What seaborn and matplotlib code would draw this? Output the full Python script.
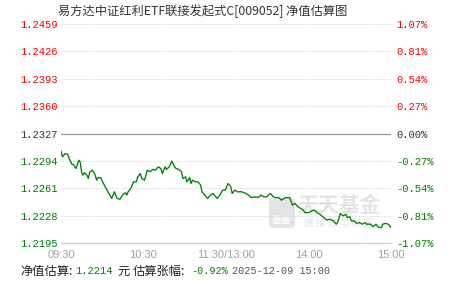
import matplotlib
matplotlib.use("Agg")
import matplotlib.pyplot as plt
from matplotlib.patches import FancyBboxPatch
import seaborn as sns
import pandas as pd

# ---------------- data ----------------
title = "易方达中证红利ETF联接发起式C[009052] 净值估算图"
base_nav = 1.2327
nav_ticks = [1.2459, 1.2426, 1.2393, 1.2360, 1.2327, 1.2294, 1.2261, 1.2228, 1.2195]
pct_ticks = ["1.07%", "0.81%", "0.54%", "0.27%", "0.00%", "-0.27%", "-0.54%", "-0.81%", "-1.07%"]
time_labels = ["09:30", "10:30", "11:30/13:00", "14:00", "15:00"]
time_label_pos = [0, 60, 120.5, 181, 241]
minor_pos = [30, 90, 151, 211]

minute = [0, 1, 3, 5, 6, 8, 9, 11, 13, 14, 15, 16, 17, 19, 20, 21, 23, 25, 26, 27,
          29, 31, 33, 35, 37, 38, 39, 41, 43, 45, 47, 48, 49, 51, 53, 55, 56, 58, 59, 61,
          63, 65, 67, 69, 71, 73, 74, 76, 77, 79, 81, 82, 84, 86, 88, 89, 91, 92, 94, 95,
          96, 98, 100, 102, 103, 105, 107, 109, 111, 112, 114, 116, 118, 120, 122, 124, 125, 127, 129, 132,
          135, 137, 139, 142, 144, 146, 148, 150, 153, 155, 157, 159, 161, 163, 164, 167, 169, 171, 173, 175,
          177, 178, 181, 183, 185, 187, 189, 192, 194, 196, 199, 201, 202, 204, 206, 208, 209, 211, 212, 214,
          216, 218, 220, 222, 223, 226, 228, 230, 232, 234, 235, 237, 239, 241]
nav = [1.2306, 1.2299, 1.2303, 1.2302, 1.2297, 1.2290, 1.2290, 1.2285, 1.2295, 1.2293,
       1.2281, 1.2277, 1.2280, 1.2277, 1.2273, 1.2281, 1.2283, 1.2277, 1.2271, 1.2274,
       1.2274, 1.2267, 1.2261, 1.2255, 1.2249, 1.2253, 1.2257, 1.2249, 1.2248, 1.2253,
       1.2256, 1.2253, 1.2257, 1.2261, 1.2269, 1.2269, 1.2275, 1.2279, 1.2273, 1.2271,
       1.2283, 1.2281, 1.2284, 1.2283, 1.2287, 1.2285, 1.2279, 1.2287, 1.2284, 1.2287,
       1.2294, 1.2290, 1.2285, 1.2284, 1.2281, 1.2273, 1.2275, 1.2269, 1.2274, 1.2267,
       1.2271, 1.2269, 1.2269, 1.2265, 1.2257, 1.2253, 1.2249, 1.2253, 1.2255, 1.2253,
       1.2249, 1.2253, 1.2259, 1.2259, 1.2267, 1.2263, 1.2255, 1.2259, 1.2257, 1.2257,
       1.2255, 1.2253, 1.2250, 1.2251, 1.2250, 1.2253, 1.2251, 1.2251, 1.2255, 1.2251,
       1.2250, 1.2250, 1.2247, 1.2249, 1.2250, 1.2250, 1.2241, 1.2243, 1.2239, 1.2237,
       1.2235, 1.2232, 1.2232, 1.2234, 1.2235, 1.2232, 1.2230, 1.2226, 1.2223, 1.2224,
       1.2222, 1.2218, 1.2220, 1.2231, 1.2228, 1.2230, 1.2226, 1.2227, 1.2222, 1.2222,
       1.2219, 1.2220, 1.2218, 1.2220, 1.2218, 1.2218, 1.2215, 1.2218, 1.2214, 1.2214,
       1.2218, 1.2219, 1.2218, 1.2214]
footer_nav = "1.2214"
footer_pct = "-0.92%"
footer_time = "2025-12-09 15:00"

# ---------------- style ----------------
sns.set_style("white")
plt.rcParams["font.family"] = ["Noto Sans CJK SC", "DejaVu Sans"]

W, H = 451, 281
fig = plt.figure(figsize=(W / 100, H / 100), dpi=100)
fig.patch.set_facecolor("white")

def fx(px):
    return px / W

def fy(py):
    return 1 - py / H

left, right, top, bottom = 61, 391, 24, 243.3
ax = fig.add_axes([fx(left), fy(bottom), fx(right - left), (bottom - top) / H])
ax.set_facecolor("none")

RED = "#ff0000"
GREEN = "#008000"
DARK = "#333333"
mono = ["Liberation Mono", "DejaVu Sans Mono"]

df = pd.DataFrame({"minute": minute, "nav": nav})
sns.lineplot(data=df, x="minute", y="nav", ax=ax, color=GREEN, linewidth=0.95, zorder=3)

ax.set_xlim(0, 241)
ax.set_ylim(nav_ticks[-1], nav_ticks[0])

# grid lines
for v in nav_ticks[1:-1]:
    if abs(v - base_nav) < 1e-6:
        ax.axhline(v, color="#999999", linewidth=0.9, zorder=2)
    else:
        ax.axhline(v, color="#d8d8d8", linewidth=0.7, linestyle=(0, (1, 1)), zorder=1)
ax.axhline(nav_ticks[0], color="#d8d8d8", linewidth=0.7, linestyle=(0, (1, 1)), zorder=1)

def col(v):
    if v > base_nav + 1e-6:
        return RED
    if v < base_nav - 1e-6:
        return GREEN
    return DARK

ax.set_yticks(nav_ticks)
ax.set_yticklabels([f"{v:.4f}" for v in nav_ticks], family=mono, fontsize=7.6)
for lab, v in zip(ax.get_yticklabels(), nav_ticks):
    lab.set_color(col(v))
ax.tick_params(axis="y", length=0, pad=2.6)

ax2 = ax.twinx()
ax2.set_ylim(ax.get_ylim())
ax2.set_yticks(nav_ticks)
ax2.set_yticklabels(pct_ticks, family=mono, fontsize=7.6)
for lab, v in zip(ax2.get_yticklabels(), nav_ticks):
    lab.set_color(col(v))
ax2.tick_params(axis="y", length=0, pad=3.6)

for a in (ax, ax2):
    for s in ("top", "left", "right", "bottom"):
        a.spines[s].set_visible(False)
ax.spines["bottom"].set_visible(True)
ax.spines["bottom"].set_color("#c5d0dc")
ax.spines["bottom"].set_linewidth(1.0)

ax.set_xticks(time_label_pos)
ax.set_xticklabels(time_labels, family=["Liberation Sans"], fontsize=8, color="#a0a0a0")
ax.set_xticks(minor_pos, minor=True)
ax.tick_params(axis="x", which="both", direction="out", length=3, width=0.8,
               color="#c5d0dc", pad=1.5)
ax.set_xlabel("")
ax.set_ylabel("")
ax2.set_ylabel("")

# watermark
wm = "#e4e4e4"
icon = FancyBboxPatch((fx(269), fy(228)), fx(26), (228 - 198) / H,
                      boxstyle="round,pad=0,rounding_size=0.012",
                      transform=fig.transFigure, facecolor=wm, edgecolor="none",
                      zorder=0.5, clip_on=False)
ax.add_artist(icon)
ax.text(fx(282), fy(220), "基金", transform=fig.transFigure, ha="center", va="center",
        fontsize=7, color="white", fontweight="bold", zorder=0.6, clip_on=False)
ax.text(fx(339), fy(205), "天天基金", transform=fig.transFigure, ha="center", va="center",
        fontsize=15, color=wm, fontweight="bold", zorder=0.6, clip_on=False)
ax.text(fx(339), fy(223), "链 接 您 与 财 富", transform=fig.transFigure, ha="center",
        va="center", fontsize=7, color=wm, zorder=0.6, clip_on=False)

# title
fig.text(fx(58), fy(11), title, ha="left", va="center", fontsize=8.8, color="#333333")

# footer
fy_f = fy(271)
fig.text(fx(20), fy_f, "净值估算:", ha="left", va="center", fontsize=8.8, color="#222222")
fig.text(fx(75), fy_f, footer_nav, ha="left", va="center", fontsize=7.5, family=mono, color=GREEN)
fig.text(fx(117), fy_f, "元", ha="left", va="center", fontsize=8.8, color="#222222")
fig.text(fx(133), fy_f, "估算张幅:", ha="left", va="center", fontsize=8.8, color="#222222")
fig.text(fx(191), fy_f, footer_pct, ha="left", va="center", fontsize=7.3, family=mono, color=GREEN)
fig.text(fx(232), fy_f, footer_time, ha="left", va="center", fontsize=7.3, family=mono, color="#555555")

fig.savefig("out.png", dpi=100, facecolor="white")
